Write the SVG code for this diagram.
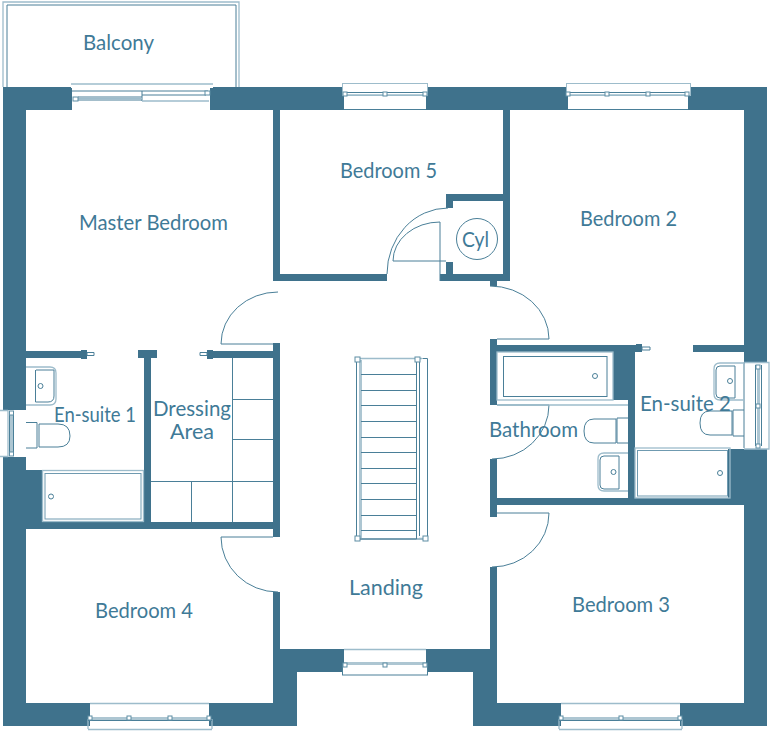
<svg xmlns="http://www.w3.org/2000/svg" width="776" height="736" viewBox="0 0 776 736">
<style>
.w{fill:#3f728c}
.o{fill:#fff;stroke:none}
.l{fill:none;stroke:#4a7f98;stroke-width:1}
.f{fill:#fff;stroke:#4a7f98;stroke-width:1}
.p{fill:none;stroke:#9dbccb;stroke-width:1.3}
.g{fill:#adc6d2;stroke:none}
.s{fill:#fff;stroke:#5d8da4;stroke-width:1}
.t{font-family:"Lato","Liberation Sans",sans-serif;font-size:21px;fill:#3f7a97}
</style>
<rect width="776" height="736" fill="#fff"/>
<g id="walls">
<rect class="w" x="3" y="87" width="764" height="23"/>
<rect class="w" x="3" y="87" width="23" height="323"/>
<rect class="w" x="3" y="457" width="23" height="269"/>
<rect class="w" x="26" y="470" width="16" height="52"/>
<rect class="w" x="744" y="87" width="23" height="275"/>
<rect class="w" x="728" y="449" width="39" height="56"/>
<rect class="w" x="744" y="505" width="23" height="221"/>
<rect class="w" x="3" y="703" width="294" height="23"/>
<rect class="w" x="473" y="703" width="294" height="23"/>
<rect class="w" x="273" y="649" width="24" height="77"/>
<rect class="w" x="473" y="649" width="24" height="77"/>
<rect class="w" x="273" y="649" width="224" height="23"/>
<rect class="w" x="273" y="110" width="7" height="171"/>
<rect class="w" x="273" y="274" width="114" height="7"/>
<rect class="w" x="440" y="274" width="70" height="7"/>
<rect class="w" x="503" y="110" width="7" height="171"/>
<rect class="w" x="446" y="194" width="64" height="7"/>
<rect class="w" x="446" y="194" width="7" height="14"/>
<rect class="w" x="446" y="262" width="7" height="14"/>
<rect class="w" x="490" y="281" width="7" height="5"/>
<rect class="w" x="490" y="339" width="7" height="12"/>
<rect class="w" x="490" y="345" width="146" height="7"/>
<rect class="w" x="490" y="345" width="7" height="60"/>
<rect class="w" x="613" y="345" width="22" height="55"/>
<rect class="w" x="628" y="345" width="7" height="160"/>
<rect class="w" x="490" y="459" width="7" height="54"/>
<rect class="w" x="490" y="498" width="254" height="7"/>
<rect class="w" x="636" y="344" width="6" height="8"/>
<rect class="w" x="693" y="345" width="51" height="7"/>
<rect class="w" x="26" y="351" width="56" height="7"/>
<rect class="w" x="81" y="350" width="6" height="9"/>
<rect class="w" x="138" y="350" width="19" height="8"/>
<rect class="w" x="144" y="350" width="7" height="172"/>
<rect class="w" x="207" y="350" width="6" height="9"/>
<rect class="w" x="213" y="351" width="67" height="7"/>
<rect class="w" x="273" y="343" width="7" height="186"/>
<rect class="w" x="26" y="522" width="254" height="7"/>
<rect class="w" x="273" y="529" width="7" height="8"/>
<rect class="w" x="273" y="592" width="7" height="60"/>
<rect class="w" x="490" y="513" width="7" height="4"/>
<rect class="w" x="490" y="567" width="7" height="85"/>
</g>
<g id="balcony">
<path class="p" d="M3 87V2H239V87"/>
<path class="l" d="M7 87V5H236V87"/>
<text class="t" x="83" y="50" textLength="71" lengthAdjust="spacingAndGlyphs">Balcony</text>
</g>
<g id="balcony-door">
<rect class="o" x="72" y="85" width="138" height="25"/>
<rect class="o" x="71" y="84" width="142" height="4"/>
<path class="p" d="M71 84H213"/>
<path class="l" d="M72 91H208M142 91V101M142 95H206M78 97H142M78 100H142"/>
<path class="p" d="M142 101H209M78 98.500H142"/>
<rect class="s" x="73" y="97" width="5" height="4"/>
<rect class="s" x="205" y="91" width="5" height="4"/>
</g>
<g id="window-bedroom5">
<rect class="o" x="344" y="85" width="82" height="25"/>
<rect class="f" x="342.500" y="83.500" width="85" height="12" style="stroke:#9dbccb"/>
<path class="l" d="M344 109.500H426M344 92.500H426"/>
<path class="p" d="M344 95H426"/>
<rect class="s" x="343" y="92" width="4" height="4"/><rect class="s" x="383" y="92" width="4" height="4"/><rect class="s" x="423" y="92" width="4" height="4"/>
</g>
<g id="window-bedroom2">
<rect class="o" x="568" y="85" width="120" height="25"/>
<rect class="f" x="566.500" y="83.500" width="124" height="12" style="stroke:#9dbccb"/>
<path class="l" d="M568 109.500H688M568 92.500H688"/>
<path class="p" d="M568 95H688"/>
<rect class="s" x="566" y="92" width="4" height="4"/><rect class="s" x="605" y="92" width="4" height="4"/><rect class="s" x="646" y="92" width="4" height="4"/><rect class="s" x="685" y="92" width="4" height="4"/>
</g>
<g id="window-landing">
<rect class="o" x="344" y="649" width="82" height="24"/>
<path class="p" d="M344 649.500H426"/>
<rect class="f" x="342.500" y="663.500" width="85" height="11.500"/>
<path class="g" d="M344 662H426V665H344Z"/>
<rect class="s" x="343" y="663" width="4" height="4"/><rect class="s" x="383" y="663" width="4" height="4"/><rect class="s" x="423" y="663" width="4" height="4"/>
</g>
<g id="window-bedroom4">
<rect class="o" x="90" y="703" width="119" height="26"/>
<path class="p" d="M90 703.500H209M88 729.500H212M88 719V729M212 719V729"/>
<path class="l" d="M88 720.500H212"/>
<path class="g" d="M90 717H209V720H90Z"/>
<rect class="s" x="88" y="716" width="4" height="4"/><rect class="s" x="127" y="716" width="4" height="4"/><rect class="s" x="168" y="716" width="4" height="4"/><rect class="s" x="207" y="716" width="4" height="4"/>
</g>
<g id="window-bedroom3">
<rect class="o" x="561" y="703" width="119" height="26"/>
<path class="p" d="M561 703.500H680M559 729.500H682M559 719V729M682 719V729"/>
<path class="l" d="M559 720.500H682"/>
<path class="g" d="M561 717H680V720H561Z"/>
<rect class="s" x="559" y="716" width="4" height="4"/><rect class="s" x="619" y="716" width="4" height="4"/><rect class="s" x="678" y="716" width="4" height="4"/>
</g>
<g id="window-ensuite1">
<rect class="o" x="0" y="410" width="26" height="47"/>
<path class="p" d="M0 410.500H8M0 456.500H8M8 410V457"/>
<path class="g" d="M10 411H13V456H10Z"/>
<path class="l" d="M9.500 411V456M13.500 411V456"/>
<rect class="s" x="9.500" y="411" width="4" height="4"/><rect class="s" x="9.500" y="452" width="4" height="4"/>
</g>
<g id="window-ensuite2">
<rect class="o" x="744" y="362" width="25" height="87"/>
<path class="p" d="M744 362.500H769V449H744"/>
<path class="g" d="M757 365H760V446H757Z"/>
<path class="l" d="M755.500 365V446M761.500 365V446M744 362.500V448"/>
<rect class="s" x="756" y="365" width="4" height="4"/><rect class="s" x="756" y="404" width="4" height="4"/><rect class="s" x="756" y="444" width="4" height="4"/>
</g>
<g id="doors">
<path class="l" d="M278 292A57 52 0 0 0 221 344H273"/>
<path class="l" d="M273 537H221A57 55 0 0 0 278 592"/>
<path class="l" d="M490 286A59 53 0 0 1 549 339H497"/>
<path class="l" d="M497 405H549A57 54 0 0 1 492 459"/>
<path class="l" d="M497 513H549A57 54 0 0 1 492 567"/>
<path class="l" d="M448 208A61 66 0 0 0 387 274"/>
<path class="l" d="M440 281V222A47 39 0 0 0 393 261H446"/>
<path class="f" d="M87 352.500H94V355.500H87ZM200 352.500H207V355.500H200ZM642 347H650V350H642Z"/>
</g>
<g id="stairs">
<rect class="g" x="359" y="360" width="3" height="178"/>
<path class="l" d="M356.500 359V539H416.500V359M419.500 360V536M422.500 358.500H427.500V539H360"/>
<path class="p" d="M357 358.500H422M419 538.500H428"/>
<path class="l" d="M361 374.500H416M361 390.500H416M361 405.500H416M361 421.500H416M361 437.500H416M361 452.500H416M361 468.500H416M361 483.500H416M361 499.500H416M361 515.500H416M361 530.500H416"/>
<rect class="s" x="355" y="357" width="5" height="5"/><rect class="s" x="415" y="357" width="5" height="5"/><rect class="s" x="355" y="536" width="5" height="5"/><rect class="s" x="423" y="536" width="5" height="5"/>
</g>
<g id="dressing-area">
<path class="l" d="M232.500 358V522M232 399.500H273M232 439.500H273M151 481.500H273M191.500 481V522"/>
<text class="t" x="153" y="416" textLength="78" lengthAdjust="spacingAndGlyphs">Dressing</text>
<text class="t" x="170" y="439" textLength="44" lengthAdjust="spacingAndGlyphs">Area</text>
</g>
<g id="ensuite-1">
<path class="p" d="M26 367H50Q56 367 56 373V399Q56 405 50 405H26"/>
<path class="l" d="M36 370H54V396Q54 402 48 402H35.500V370"/>
<circle class="l" cx="40.500" cy="386" r="2.500"/>
<path class="l" d="M26 422.500H37V448H26M39 424H58Q70 424 70 436Q70 447 58 447H39Z"/>
<rect class="p" x="42.500" y="470.500" width="101" height="51"/>
<rect class="l" x="45" y="473.500" width="96" height="45.500" style="stroke:#6f9ab0"/>
<circle class="l" cx="51" cy="496.500" r="2.500"/>
<text class="t" x="54" y="422" textLength="82" lengthAdjust="spacingAndGlyphs">En-suite 1</text>
</g>
<g id="bathroom">
<rect class="p" x="497" y="352" width="116" height="48"/>
<rect class="l" x="503.500" y="356.500" width="103.500" height="40"/>
<circle class="l" cx="595" cy="376" r="2.500"/>
<path class="l" d="M628 418H617V443H628M616 419H594Q584 419 584 431Q584 443 594 443H616Z"/>
<path class="p" d="M628 453H604Q598 453 598 459V485Q598 491 604 491H628"/>
<path class="l" d="M604 456H619V489H604Q600 489 600 485V460Q600 456 604 456Z"/>
<circle class="l" cx="613.500" cy="472" r="2.500"/>
<path class="p" d="M497 405H628"/>
<text class="t" x="489" y="437" textLength="89" lengthAdjust="spacingAndGlyphs">Bathroom</text>
</g>
<g id="ensuite-2">
<rect class="p" x="635" y="448" width="95" height="50"/>
<rect class="l" x="637.500" y="450.500" width="90" height="45.500" style="stroke:#6f9ab0"/>
<circle class="l" cx="720" cy="473" r="2.500"/>
<path class="p" d="M744 363H720Q714 363 714 369V394Q714 400 720 400H744"/>
<path class="l" d="M720 366H735V398H720Q716 398 716 394V370Q716 366 720 366Z"/>
<circle class="l" cx="730" cy="381" r="2.500"/>
<path class="l" d="M744 410H733V436H744M732 411H710Q700 411 700 423Q700 435 710 435H732Z"/>
<text class="t" x="640" y="411" textLength="91" lengthAdjust="spacingAndGlyphs">En-suite 2</text>
</g>
<g id="cyl">
<circle class="l" cx="477" cy="239" r="20.500"/>
<text class="t" x="462" y="247" textLength="27" lengthAdjust="spacingAndGlyphs">Cyl</text>
</g>
<g id="labels">
<text class="t" x="79" y="230" textLength="149" lengthAdjust="spacingAndGlyphs">Master Bedroom</text>
<text class="t" x="340" y="178" textLength="97" lengthAdjust="spacingAndGlyphs">Bedroom 5</text>
<text class="t" x="580" y="226" textLength="97" lengthAdjust="spacingAndGlyphs">Bedroom 2</text>
<text class="t" x="349" y="595" textLength="74" lengthAdjust="spacingAndGlyphs">Landing</text>
<text class="t" x="95" y="618" textLength="98" lengthAdjust="spacingAndGlyphs">Bedroom 4</text>
<text class="t" x="572" y="612" textLength="98" lengthAdjust="spacingAndGlyphs">Bedroom 3</text>
</g>
</svg>
